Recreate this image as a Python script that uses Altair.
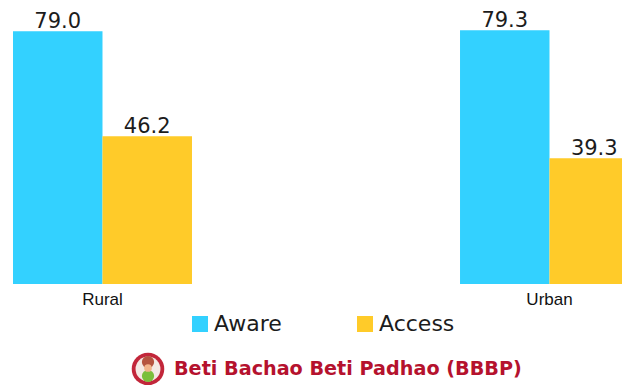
import altair as alt
import pandas as pd

areas = ["Rural", "Urban"]
series = ["Aware", "Access"]
aware = [79.0, 79.3]
access = [46.2, 39.3]
series_colors = ["#00C6FF", "#FFCB29"]
series_opacity = [0.8, 1.0]
title_text = ["Beti Bachao Beti Padhao (BBBP)"]
FONT = "DejaVu Sans"

rows = []
for i, a in enumerate(areas):
    rows.append({"area": a, "series": "Aware", "value": aware[i]})
    rows.append({"area": a, "series": "Access", "value": access[i]})
df = pd.DataFrame(rows)

x = alt.X("area:N", sort=areas,
          scale=alt.Scale(range=[5, 631], paddingInner=0.5996, paddingOuter=0),
          axis=alt.Axis(title=None, domain=False, ticks=False, labelAngle=0,
                        labelFont="Liberation Sans", labelFontSize=17,
                        labelColor="#111111", labelPadding=7))
xo = alt.XOffset("series:N", sort=series, scale=alt.Scale(paddingInner=0, paddingOuter=0))
y = alt.Y("value:Q", scale=alt.Scale(domain=[0, 86.25], nice=False, zero=True), axis=None)

bars = alt.Chart(df).mark_bar(stroke=None).encode(
    x=x, xOffset=xo, y=y,
    color=alt.Color("series:N", sort=series,
                    scale=alt.Scale(domain=series, range=series_colors),
                    legend=alt.Legend(title=None, orient="none", direction="horizontal",
                                      legendX=181, legendY=305, symbolType="square",
                                      symbolSize=256, symbolOpacity=1, symbolStrokeWidth=0,
                                      labelFont=FONT, labelFontSize=22,
                                      labelColor="#1c1c1c", columnPadding=72, labelOffset=3,
                                      labelLimit=200)),
    opacity=alt.Opacity("series:N", sort=series,
                        scale=alt.Scale(domain=series, range=series_opacity), legend=None),
)

labels = alt.Chart(df).mark_text(baseline="alphabetic", dy=-3, font=FONT, fontSize=21,
                                 color="#1c1c1c").encode(
    x=x, xOffset=xo, y=y, text=alt.Text("value:Q", format=".1f"),
)

# Small emblem left of the source line: concentric circles
logo_color = ["#C2263A", "#F4E9E4", "#7BBF3A", "#B5533F", "#F2B48C"]
logo_size = [1060, 620, 150, 150, 60]
logo_y = [361, 361, 368, 354, 360]
logo_layers = [
    alt.Chart(pd.DataFrame({"part": [i]})).mark_point(
        filled=True, opacity=1, shape="circle", color=c, size=s
    ).encode(x=alt.value(140), y=alt.value(py))
    for i, (c, s, py) in enumerate(zip(logo_color, logo_size, logo_y))
]

title_mark = alt.Chart(pd.DataFrame({"t": title_text})).mark_text(
    align="left", baseline="middle", font=FONT, fontSize=19.2, fontWeight=600, color="#B5122E"
).encode(x=alt.value(166), y=alt.value(361), text="t:N")

chart = alt.layer(bars, labels, *logo_layers, title_mark).properties(
    width=614, height=276,
    autosize=alt.AutoSizeParams(type="none"),
    padding={"left": 0, "top": 0, "right": 0, "bottom": 101},
).configure_view(stroke=None)

chart.save("out.html", embed_options={"renderer": "svg", "actions": False})
